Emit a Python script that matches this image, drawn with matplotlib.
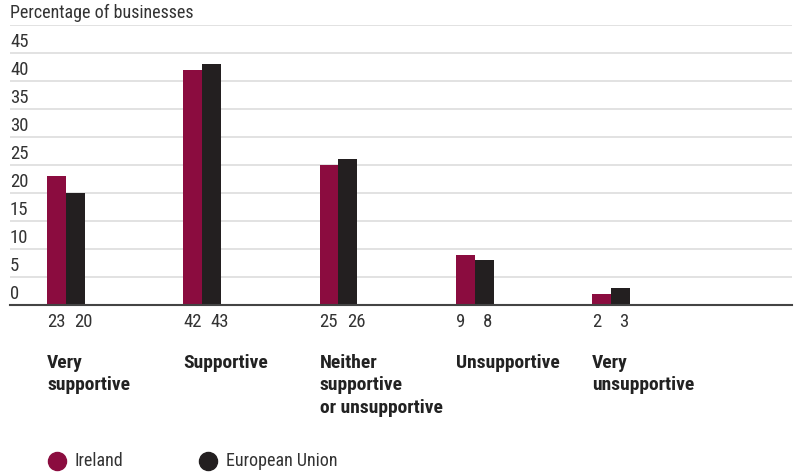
import matplotlib
matplotlib.use("Agg")
import matplotlib.pyplot as plt
from matplotlib.lines import Line2D
from matplotlib import font_manager as fm

# pick a narrow sans family if one is available
names = {f.name for f in fm.fontManager.ttflist}
stretch = "normal"
family = "Liberation Sans"
for cand in ["Liberation Sans Narrow", "Roboto Condensed", "Open Sans Condensed"]:
    if cand in names:
        family = cand
        break
else:
    cond = [f for f in fm.fontManager.ttflist
            if f.name == "DejaVu Sans" and "Condensed" in f.fname]
    if cond:
        family = "DejaVu Sans"
        stretch = "condensed"
plt.rcParams['font.family'] = [family, 'DejaVu Sans']
plt.rcParams['font.stretch'] = stretch

categories = ["Very\nsupportive", "Supportive", "Neither\nsupportive\nor unsupportive",
              "Unsupportive", "Very\nunsupportive"]
ireland = [23, 42, 25, 9, 2]
eu = [20, 43, 26, 8, 3]
series_names = ["Ireland", "European Union"]
y_ticks = [0, 5, 10, 15, 20, 25, 30, 35, 40, 45]
y_title = "Percentage of businesses"

c_ie = "#8B0C3F"
c_eu = "#231F20"
c_text = "#333333"
c_grid = "#DDDDDD"

W, H = 799, 473
fig = plt.figure(figsize=(W / 100, H / 100), dpi=100)
# axes spans from x=10px to 792px, y from 25px (value 50) to 305px (value 0)
ax = fig.add_axes([10 / W, (H - 305) / H, (792 - 10) / W, 280 / H])

group_px = 136.25
bar_w = 19 / group_px
x0 = (10 - 47) / group_px
x1 = (792 - 47) / group_px
ax.set_xlim(x0, x1)
ax.set_ylim(0, 50)

for s in ax.spines.values():
    s.set_visible(False)
ax.set_xticks([])
ax.set_yticks([])

# gridlines
for v in range(5, 55, 5):
    ax.axhline(v, color=c_grid, lw=1.2, zorder=0)
ax.axhline(0, color="#444444", lw=1.5, zorder=3, clip_on=False)

xs = list(range(len(categories)))
ax.bar([x + bar_w / 2 for x in xs], ireland, width=bar_w, color=c_ie, zorder=2)
ax.bar([x + 1.5 * bar_w for x in xs], eu, width=bar_w, color=c_eu, zorder=2)

fs = 13.5 if stretch == "condensed" or "Narrow" in family or "Condensed" in family else 12

# y-axis labels sit just above their gridlines
for v in y_ticks:
    ax.text(x0, v + 1.0, str(v), ha="left", va="baseline", fontsize=fs, color=c_text)
ax.text(x0, 50 + 1.2, y_title, ha="left", va="baseline", fontsize=fs - 0.5, color=c_text)

# value labels and category labels beneath the baseline
off = 27.5 / group_px
for x, a, b, cat in zip(xs, ireland, eu, categories):
    ax.text(x, -1.4, str(a), ha="left", va="top", fontsize=fs, color=c_text)
    ax.text(x + off, -1.4, str(b), ha="left", va="top", fontsize=fs, color=c_text)
    ax.text(x, -8.8, cat, ha="left", va="top", fontsize=fs + 0.5, fontweight="bold",
            color="#222222", linespacing=1.3)

# legend
for cx, tx, name, c in zip((57, 208), (75, 226), series_names, (c_ie, c_eu)):
    fig.add_artist(Line2D([cx / W], [(H - 461) / H], marker="o", ls="", markersize=13,
                          markerfacecolor=c, markeredgecolor=c, transform=fig.transFigure))
    fig.text(tx / W, (H - 461) / H, name, ha="left", va="center", fontsize=fs - 0.5,
             color=c_text)

fig.savefig("out.png", dpi=100)
